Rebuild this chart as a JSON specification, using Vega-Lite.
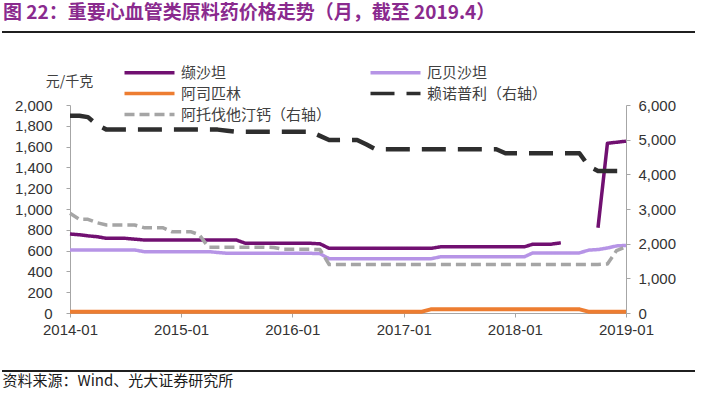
{
"$schema": "https://vega.github.io/schema/vega-lite/v6.json",
"width": 556, "height": 208,
"autosize": {"type": "none"},
"padding": {"left": 70, "top": 105, "right": 77, "bottom": 85},
"background": "#ffffff",
"title": {"text": "图 22：重要心血管类原料药价格走势（月，截至 2019.4）", "anchor": "start", "frame": "group", "dx": -67, "offset": 8, "font": "Noto Sans CJK SC", "fontSize": 19, "fontWeight": "bold", "color": "#8A2A8E"},
"data": {"values": [
{"date":"2014-01-01","valsartan":760,"irbesartan":606,"aspirin":12,"atorvastatin":2876,"lisinopril":5690},
{"date":"2014-02-01","valsartan":752,"irbesartan":606,"aspirin":12,"atorvastatin":2703,"lisinopril":5690},
{"date":"2014-03-01","valsartan":742,"irbesartan":606,"aspirin":12,"atorvastatin":2703,"lisinopril":5650},
{"date":"2014-04-01","valsartan":733,"irbesartan":606,"aspirin":12,"atorvastatin":2600,"lisinopril":5420},
{"date":"2014-05-01","valsartan":718,"irbesartan":606,"aspirin":12,"atorvastatin":2540,"lisinopril":5290},
{"date":"2014-06-01","valsartan":718,"irbesartan":606,"aspirin":12,"atorvastatin":2540,"lisinopril":5290},
{"date":"2014-07-01","valsartan":718,"irbesartan":606,"aspirin":12,"atorvastatin":2540,"lisinopril":5290},
{"date":"2014-08-01","valsartan":710,"irbesartan":606,"aspirin":12,"atorvastatin":2540,"lisinopril":5290},
{"date":"2014-09-01","valsartan":702,"irbesartan":590,"aspirin":12,"atorvastatin":2461,"lisinopril":5290},
{"date":"2014-10-01","valsartan":702,"irbesartan":590,"aspirin":12,"atorvastatin":2461,"lisinopril":5290},
{"date":"2014-11-01","valsartan":702,"irbesartan":590,"aspirin":12,"atorvastatin":2461,"lisinopril":5290},
{"date":"2014-12-01","valsartan":702,"irbesartan":590,"aspirin":12,"atorvastatin":2346,"lisinopril":5290},
{"date":"2015-01-01","valsartan":702,"irbesartan":590,"aspirin":12,"atorvastatin":2346,"lisinopril":5290},
{"date":"2015-02-01","valsartan":702,"irbesartan":590,"aspirin":12,"atorvastatin":2346,"lisinopril":5290},
{"date":"2015-03-01","valsartan":702,"irbesartan":590,"aspirin":12,"atorvastatin":2260,"lisinopril":5290},
{"date":"2015-04-01","valsartan":702,"irbesartan":590,"aspirin":12,"atorvastatin":1900,"lisinopril":5290},
{"date":"2015-05-01","valsartan":702,"irbesartan":582,"aspirin":12,"atorvastatin":1900,"lisinopril":5290},
{"date":"2015-06-01","valsartan":702,"irbesartan":574,"aspirin":12,"atorvastatin":1900,"lisinopril":5260},
{"date":"2015-07-01","valsartan":702,"irbesartan":574,"aspirin":12,"atorvastatin":1900,"lisinopril":5231},
{"date":"2015-08-01","valsartan":670,"irbesartan":574,"aspirin":12,"atorvastatin":1900,"lisinopril":5231},
{"date":"2015-09-01","valsartan":670,"irbesartan":574,"aspirin":12,"atorvastatin":1900,"lisinopril":5231},
{"date":"2015-10-01","valsartan":670,"irbesartan":574,"aspirin":12,"atorvastatin":1900,"lisinopril":5231},
{"date":"2015-11-01","valsartan":670,"irbesartan":574,"aspirin":12,"atorvastatin":1890,"lisinopril":5231},
{"date":"2015-12-01","valsartan":670,"irbesartan":574,"aspirin":12,"atorvastatin":1838,"lisinopril":5231},
{"date":"2016-01-01","valsartan":670,"irbesartan":574,"aspirin":12,"atorvastatin":1838,"lisinopril":5231},
{"date":"2016-02-01","valsartan":670,"irbesartan":574,"aspirin":12,"atorvastatin":1838,"lisinopril":5231},
{"date":"2016-03-01","valsartan":670,"irbesartan":574,"aspirin":12,"atorvastatin":1838,"lisinopril":5231},
{"date":"2016-04-01","valsartan":665,"irbesartan":571,"aspirin":12,"atorvastatin":1830,"lisinopril":5110},
{"date":"2016-05-01","valsartan":622,"irbesartan":522,"aspirin":12,"atorvastatin":1400,"lisinopril":4991},
{"date":"2016-06-01","valsartan":622,"irbesartan":522,"aspirin":12,"atorvastatin":1400,"lisinopril":4991},
{"date":"2016-07-01","valsartan":622,"irbesartan":522,"aspirin":12,"atorvastatin":1400,"lisinopril":4991},
{"date":"2016-08-01","valsartan":622,"irbesartan":522,"aspirin":12,"atorvastatin":1400,"lisinopril":4991},
{"date":"2016-09-01","valsartan":622,"irbesartan":522,"aspirin":12,"atorvastatin":1400,"lisinopril":4860},
{"date":"2016-10-01","valsartan":622,"irbesartan":522,"aspirin":12,"atorvastatin":1400,"lisinopril":4723},
{"date":"2016-11-01","valsartan":622,"irbesartan":522,"aspirin":12,"atorvastatin":1400,"lisinopril":4723},
{"date":"2016-12-01","valsartan":622,"irbesartan":522,"aspirin":12,"atorvastatin":1400,"lisinopril":4723},
{"date":"2017-01-01","valsartan":622,"irbesartan":522,"aspirin":12,"atorvastatin":1400,"lisinopril":4723},
{"date":"2017-02-01","valsartan":622,"irbesartan":522,"aspirin":12,"atorvastatin":1400,"lisinopril":4723},
{"date":"2017-03-01","valsartan":622,"irbesartan":522,"aspirin":12,"atorvastatin":1400,"lisinopril":4723},
{"date":"2017-04-01","valsartan":622,"irbesartan":522,"aspirin":36,"atorvastatin":1400,"lisinopril":4723},
{"date":"2017-05-01","valsartan":636,"irbesartan":540,"aspirin":36,"atorvastatin":1400,"lisinopril":4723},
{"date":"2017-06-01","valsartan":636,"irbesartan":540,"aspirin":36,"atorvastatin":1400,"lisinopril":4723},
{"date":"2017-07-01","valsartan":636,"irbesartan":540,"aspirin":36,"atorvastatin":1400,"lisinopril":4723},
{"date":"2017-08-01","valsartan":636,"irbesartan":540,"aspirin":36,"atorvastatin":1400,"lisinopril":4723},
{"date":"2017-09-01","valsartan":636,"irbesartan":540,"aspirin":36,"atorvastatin":1400,"lisinopril":4723},
{"date":"2017-10-01","valsartan":636,"irbesartan":540,"aspirin":36,"atorvastatin":1400,"lisinopril":4723},
{"date":"2017-11-01","valsartan":636,"irbesartan":540,"aspirin":36,"atorvastatin":1400,"lisinopril":4723},
{"date":"2017-12-01","valsartan":636,"irbesartan":540,"aspirin":36,"atorvastatin":1400,"lisinopril":4608},
{"date":"2018-01-01","valsartan":636,"irbesartan":540,"aspirin":36,"atorvastatin":1400,"lisinopril":4608},
{"date":"2018-02-01","valsartan":636,"irbesartan":540,"aspirin":36,"atorvastatin":1400,"lisinopril":4608},
{"date":"2018-03-01","valsartan":662,"irbesartan":578,"aspirin":36,"atorvastatin":1400,"lisinopril":4608},
{"date":"2018-04-01","valsartan":662,"irbesartan":578,"aspirin":36,"atorvastatin":1400,"lisinopril":4608},
{"date":"2018-05-01","valsartan":662,"irbesartan":578,"aspirin":36,"atorvastatin":1400,"lisinopril":4608},
{"date":"2018-06-01","valsartan":675,"irbesartan":578,"aspirin":36,"atorvastatin":1400,"lisinopril":4608},
{"date":"2018-07-01","valsartan":null,"irbesartan":578,"aspirin":36,"atorvastatin":1400,"lisinopril":4608},
{"date":"2018-08-01","valsartan":null,"irbesartan":578,"aspirin":36,"atorvastatin":1400,"lisinopril":4608},
{"date":"2018-09-01","valsartan":null,"irbesartan":605,"aspirin":12,"atorvastatin":1400,"lisinopril":4230},
{"date":"2018-10-01","valsartan":820,"irbesartan":610,"aspirin":12,"atorvastatin":1400,"lisinopril":4097},
{"date":"2018-11-01","valsartan":1632,"irbesartan":625,"aspirin":12,"atorvastatin":1414,"lisinopril":4097},
{"date":"2018-12-01","valsartan":1642,"irbesartan":645,"aspirin":12,"atorvastatin":1800,"lisinopril":4097},
{"date":"2019-01-01","valsartan":1652,"irbesartan":650,"aspirin":12,"atorvastatin":1913,"lisinopril":4097}
]},
"encoding": {
  "x": {"field": "date", "type": "temporal",
    "scale": {"type": "utc", "domain": [1388534400000, 1546300800000]},
    "axis": {"values": [1388534400000, 1420070400000, 1451606400000, 1483228800000, 1514764800000, 1546300800000],
      "labelExpr": "utcFormat(datum.value, '%Y-%m')", "labelPadding": 5, "labelFlush": false, "labelOverlap": false,
      "title": "资料来源：Wind、光大证券研究所", "titleAlign": "left", "titleAnchor": "start", "titleX": -68, "titleY": 67, "titleBaseline": "middle", "titleFont": "Noto Sans CJK SC", "titleFontSize": 15, "titleFontWeight": "normal", "titleColor": "#1a1a1a"}}
},
"layer": [
 {"layer": [
  {"data": {"values": [{}]},
   "mark": {"type": "rule", "strokeWidth": 2, "color": "#1f1f1f", "xOffset": -68, "x2Offset": 69},
   "encoding": {
     "x": {"value": 0},
     "x2": {"value": 556},
     "y": {"datum": 2702, "type": "quantitative", "scale": {"domain": [0, 2000]},
       "axis": {"values": [0,200,400,600,800,1000,1200,1400,1600,1800,2000], "format": ",.0f", "orient": "left", "labelPadding": 14, "title": "元/千克", "titleAngle": 0, "titleX": -1, "titleY": -24, "titleAlign": "center", "titleBaseline": "middle", "titleFont": "Noto Sans CJK SC", "titleFontSize": 14, "titleFontWeight": "normal", "titleColor": "#404040"}}
   }},
  {"data": {"values": [{}]},
   "mark": {"type": "rule", "strokeWidth": 2, "color": "#1f1f1f", "xOffset": -68, "x2Offset": 69},
   "encoding": {
     "x": {"value": 0},
     "x2": {"value": 556},
     "y": {"datum": -558, "type": "quantitative", "scale": {"domain": [0, 2000]},
       "axis": {"values": [0,200,400,600,800,1000,1200,1400,1600,1800,2000], "format": ",.0f", "orient": "left", "labelPadding": 14, "title": "元/千克", "titleAngle": 0, "titleX": -1, "titleY": -24, "titleAlign": "center", "titleBaseline": "middle", "titleFont": "Noto Sans CJK SC", "titleFontSize": 14, "titleFontWeight": "normal", "titleColor": "#404040"}}
   }},
  {"mark": {"type": "line", "strokeWidth": 3.5, "invalid": "break-paths-filter-domains"},
   "encoding": {
     "y": {"field": "valsartan", "type": "quantitative", "scale": {"domain": [0, 2000]},
       "axis": {"values": [0,200,400,600,800,1000,1200,1400,1600,1800,2000], "format": ",.0f", "orient": "left", "labelPadding": 14, "title": "元/千克", "titleAngle": 0, "titleX": -1, "titleY": -24, "titleAlign": "center", "titleBaseline": "middle", "titleFont": "Noto Sans CJK SC", "titleFontSize": 14, "titleFontWeight": "normal", "titleColor": "#404040"}},
     "color": {"datum": "缬沙坦", "type": "nominal", "scale": {"domain": ["缬沙坦","阿司匹林","阿托伐他汀钙（右轴）","厄贝沙坦","赖诺普利（右轴）"], "range": ["#711071","#ED7D31","#A5A5A5","#B694E6","#2E2E2E"]}, "legend": {"symbolType": "M0,0H50", "title": null}},
     "strokeDash": {"datum": "缬沙坦", "type": "nominal", "scale": {"domain": ["缬沙坦","阿司匹林","阿托伐他汀钙（右轴）","厄贝沙坦","赖诺普利（右轴）"], "range": [[1,0],[1,0],[10,5],[1,0],[24,12]]}, "legend": {"symbolType": "M0,0H50", "title": null}}
   }},
  {"mark": {"type": "line", "strokeWidth": 3.5},
   "encoding": {
     "y": {"field": "irbesartan", "type": "quantitative", "scale": {"domain": [0, 2000]},
       "axis": {"values": [0,200,400,600,800,1000,1200,1400,1600,1800,2000], "format": ",.0f", "orient": "left", "labelPadding": 14, "title": "元/千克", "titleAngle": 0, "titleX": -1, "titleY": -24, "titleAlign": "center", "titleBaseline": "middle", "titleFont": "Noto Sans CJK SC", "titleFontSize": 14, "titleFontWeight": "normal", "titleColor": "#404040"}},
     "color": {"datum": "厄贝沙坦", "type": "nominal", "scale": {"domain": ["缬沙坦","阿司匹林","阿托伐他汀钙（右轴）","厄贝沙坦","赖诺普利（右轴）"], "range": ["#711071","#ED7D31","#A5A5A5","#B694E6","#2E2E2E"]}, "legend": {"symbolType": "M0,0H50", "title": null}},
     "strokeDash": {"datum": "厄贝沙坦", "type": "nominal", "scale": {"domain": ["缬沙坦","阿司匹林","阿托伐他汀钙（右轴）","厄贝沙坦","赖诺普利（右轴）"], "range": [[1,0],[1,0],[10,5],[1,0],[24,12]]}, "legend": {"symbolType": "M0,0H50", "title": null}}
   }},
  {"mark": {"type": "line", "strokeWidth": 4},
   "encoding": {
     "y": {"field": "aspirin", "type": "quantitative", "scale": {"domain": [0, 2000]},
       "axis": {"values": [0,200,400,600,800,1000,1200,1400,1600,1800,2000], "format": ",.0f", "orient": "left", "labelPadding": 14, "title": "元/千克", "titleAngle": 0, "titleX": -1, "titleY": -24, "titleAlign": "center", "titleBaseline": "middle", "titleFont": "Noto Sans CJK SC", "titleFontSize": 14, "titleFontWeight": "normal", "titleColor": "#404040"}},
     "color": {"datum": "阿司匹林", "type": "nominal", "scale": {"domain": ["缬沙坦","阿司匹林","阿托伐他汀钙（右轴）","厄贝沙坦","赖诺普利（右轴）"], "range": ["#711071","#ED7D31","#A5A5A5","#B694E6","#2E2E2E"]}, "legend": {"symbolType": "M0,0H50", "title": null}},
     "strokeDash": {"datum": "阿司匹林", "type": "nominal", "scale": {"domain": ["缬沙坦","阿司匹林","阿托伐他汀钙（右轴）","厄贝沙坦","赖诺普利（右轴）"], "range": [[1,0],[1,0],[10,5],[1,0],[24,12]]}, "legend": {"symbolType": "M0,0H50", "title": null}}
   }}
 ]},
 {"layer": [
  {"mark": {"type": "line", "strokeWidth": 4.5},
   "encoding": {
     "y": {"field": "lisinopril", "type": "quantitative", "scale": {"domain": [0, 6000]},
       "axis": {"values": [0,1000,2000,3000,4000,5000,6000], "format": ",.0f", "orient": "right", "labelPadding": 8, "title": null}},
     "color": {"datum": "赖诺普利（右轴）", "type": "nominal", "scale": {"domain": ["缬沙坦","阿司匹林","阿托伐他汀钙（右轴）","厄贝沙坦","赖诺普利（右轴）"], "range": ["#711071","#ED7D31","#A5A5A5","#B694E6","#2E2E2E"]}, "legend": {"symbolType": "M0,0H50", "title": null}},
     "strokeDash": {"datum": "赖诺普利（右轴）", "type": "nominal", "scale": {"domain": ["缬沙坦","阿司匹林","阿托伐他汀钙（右轴）","厄贝沙坦","赖诺普利（右轴）"], "range": [[1,0],[1,0],[10,5],[1,0],[24,12]]}, "legend": {"symbolType": "M0,0H50", "title": null}}
   }},
  {"mark": {"type": "line", "strokeWidth": 3.5},
   "encoding": {
     "y": {"field": "atorvastatin", "type": "quantitative", "scale": {"domain": [0, 6000]},
       "axis": {"values": [0,1000,2000,3000,4000,5000,6000], "format": ",.0f", "orient": "right", "labelPadding": 8, "title": null}},
     "color": {"datum": "阿托伐他汀钙（右轴）", "type": "nominal", "scale": {"domain": ["缬沙坦","阿司匹林","阿托伐他汀钙（右轴）","厄贝沙坦","赖诺普利（右轴）"], "range": ["#711071","#ED7D31","#A5A5A5","#B694E6","#2E2E2E"]}, "legend": {"symbolType": "M0,0H50", "title": null}},
     "strokeDash": {"datum": "阿托伐他汀钙（右轴）", "type": "nominal", "scale": {"domain": ["缬沙坦","阿司匹林","阿托伐他汀钙（右轴）","厄贝沙坦","赖诺普利（右轴）"], "range": [[1,0],[1,0],[10,5],[1,0],[24,12]]}, "legend": {"symbolType": "M0,0H50", "title": null}}
   }}
 ]}
],
"resolve": {"scale": {"y": "independent"}},
"config": {
  "view": {"stroke": null},
  "font": "Liberation Sans",
  "axis": {"labelFont": "Liberation Sans", "labelFontSize": 15, "labelColor": "#333333", "domainColor": "#A6A6A6", "domainWidth": 1, "tickColor": "#A6A6A6", "tickSize": 4, "grid": false},
  "legend": {"orient": "none", "legendX": 47, "legendY": -40, "columns": 2, "columnPadding": 31, "rowPadding": 5, "symbolSize": 4, "symbolStrokeWidth": 3.5, "labelOffset": 49, "labelFont": "Noto Sans CJK SC", "labelFontSize": 15, "labelColor": "#404040", "padding": 0, "labelLimit": 400},
  "line": {"strokeJoin": "round"}
}
}
